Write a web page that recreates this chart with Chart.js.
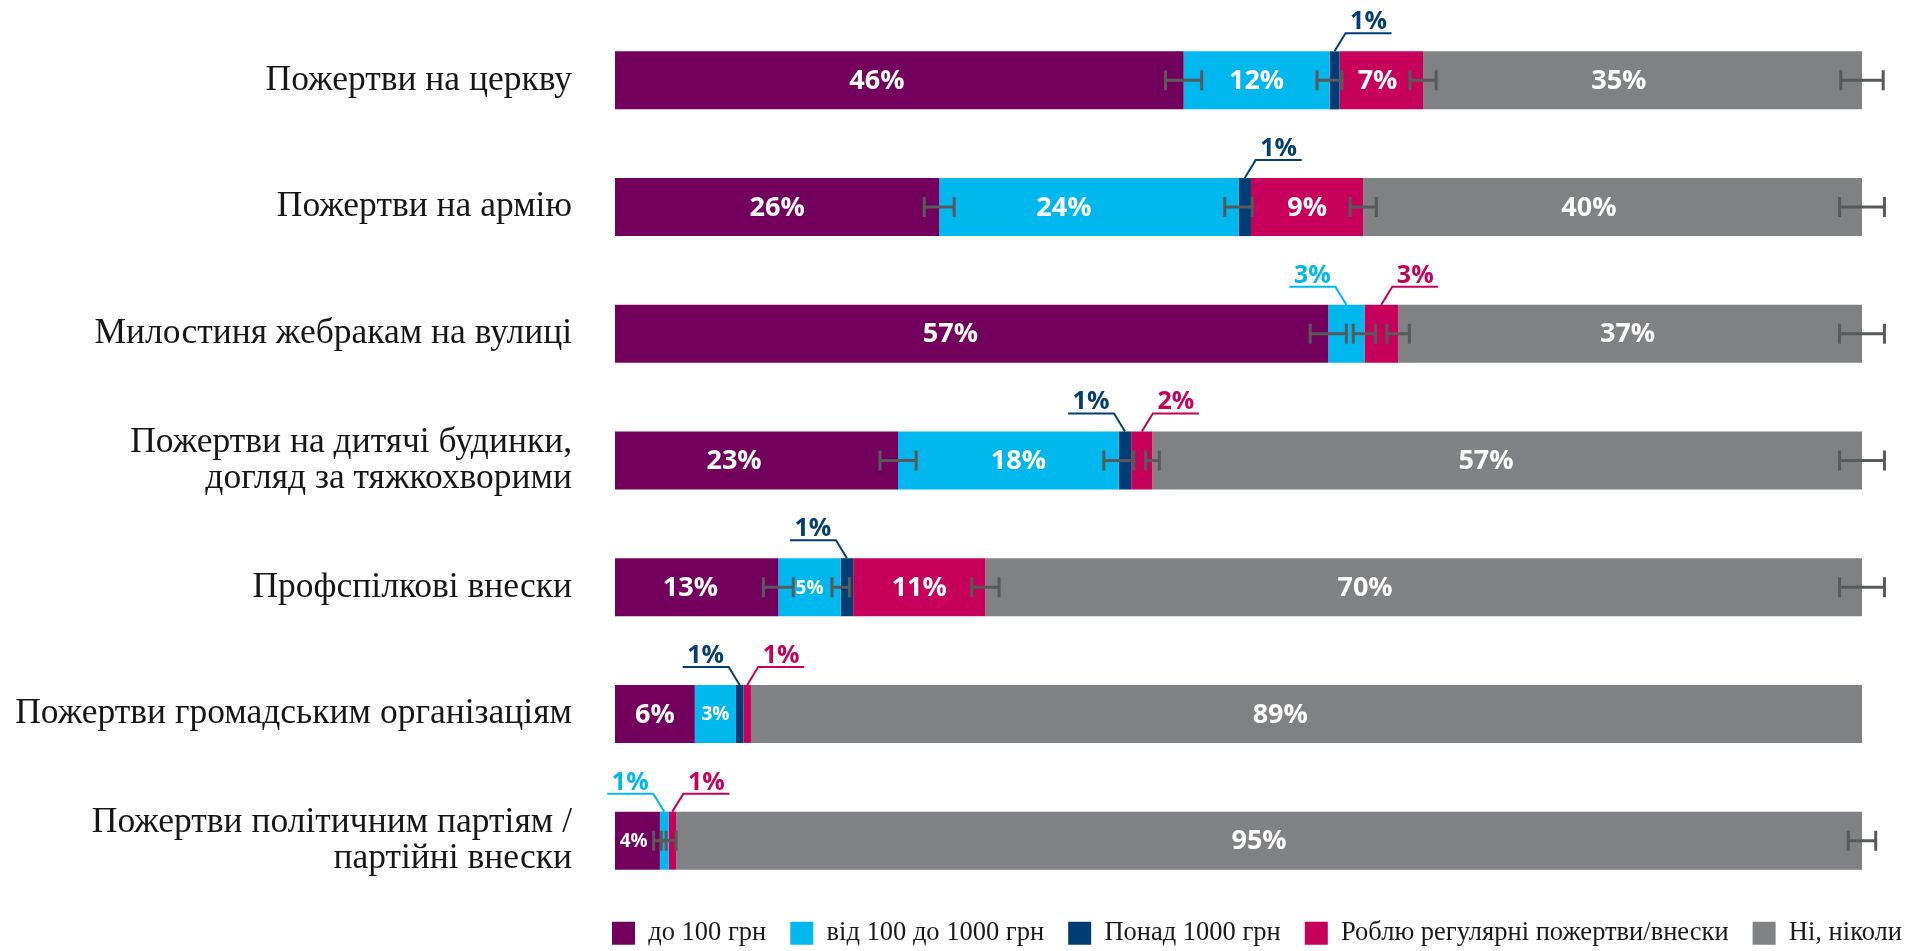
<!DOCTYPE html>
<html><head><meta charset="utf-8">
<script src="https://cdn.jsdelivr.net/npm/chart.js@4.4.1/dist/chart.umd.min.js"></script>
<style>html,body{margin:0;padding:0;background:#fff;} #wrap{width:1909px;height:951px;position:relative;overflow:hidden;}</style>
</head><body><div id="wrap"><canvas id="c"></canvas></div>
<script>
// ---- data ----
const categories = [
  'Пожертви на церкву',
  'Пожертви на армію',
  'Милостиня жебракам на вулиці',
  ['Пожертви на дитячі будинки,', 'догляд за тяжкохворими'],
  'Профспілкові внески',
  'Пожертви громадським організаціям',
  ['Пожертви політичним партіям /', 'партійні внески']
];
const seriesNames = ['до 100 грн', 'від 100 до 1000 грн', 'Понад 1000 грн', 'Роблю регулярні пожертви/внески', 'Ні, ніколи'];
const under100      = [45.6, 26, 57.2, 22.7, 13.1, 6.4, 3.6];
const from100to1000 = [11.7, 24, 2.9, 17.7, 5.0, 3.3, 0.7];
const over1000      = [0.8, 1, 0, 1.0, 1.0, 0.6, 0];
const regular       = [6.7, 9, 2.7, 1.7, 10.6, 0.6, 0.6];
const never         = [35.2, 40, 37.2, 56.9, 70.3, 89.1, 95.1];
// error margins (half-width, percentage points) drawn at each segment end
const errUnder100      = [1.45, 1.2, 1.45, 1.45, 1.2, null, 0.5];
const errFrom100to1000 = [1.0, 1.1, 0.9, 1.2, 0.7, null, 0.6];
const errOver1000      = [null, null, null, null, null, null, null];
const errRegular       = [1.05, 1.05, 0.9, 0.55, 1.1, null, null];
const errNever         = [1.7, 1.8, 1.8, 1.8, 1.8, null, 1.1];

// ---- label placement (styling, not data) ----
// segments labelled outside the bar with a callout: [row, series, direction]
const calloutSegments = [[0,2,1],[1,2,1],[2,1,-1],[2,3,1],[3,2,-1],[3,3,1],[4,2,-1],[5,2,-1],[5,3,1],[6,1,-1],[6,3,1]];
// horizontal nudge of inside labels, in axis units, per series
const labelNudge = [
  [-1.8, 0, -1.7, -1.8, -0.5, 0, -0.3],
  [0, -2.0, 0, 0.8, 0, 0, 0],
  [0, 0, 0, 0, 0, 0, 0],
  [-0.3, 0, 0, 0, 0, 0, 0],
  [-1.9, -1.9, -0.2, -1.7, -4.7, -2.1, -0.8]
];

const seriesValues = [under100, from100to1000, over1000, regular, never];
const seriesErrors = [errUnder100, errFrom100to1000, errOver1000, errRegular, errNever];
const colors = ['#73005c', '#00b7ee', '#023e73', '#c6005b', '#808184'];

const labelPlugin = {
  id: 'segLabels',
  afterDatasetsDraw(chart) {
    const ctx = chart.ctx;
    const xs = chart.scales.x;
    const isCallout = (r, s) => calloutSegments.find(c => c[0] === r && c[1] === s);
    // error bars
    ctx.save();
    ctx.strokeStyle = '#58595b';
    ctx.lineWidth = 3;
    seriesValues.forEach((vals, s) => {
      const meta = chart.getDatasetMeta(s);
      vals.forEach((v, r) => {
        const e = seriesErrors[s][r];
        if (e == null || !v) return;
        const bar = meta.data[r];
        let cum = 0; for (let k = 0; k <= s; k++) cum += seriesValues[k][r];
        const x0 = xs.getPixelForValue(cum - e), x1 = xs.getPixelForValue(cum + e);
        const y = bar.y;
        ctx.beginPath();
        ctx.moveTo(x0, y); ctx.lineTo(x1, y);
        ctx.moveTo(x0, y - 10); ctx.lineTo(x0, y + 10);
        ctx.moveTo(x1, y - 10); ctx.lineTo(x1, y + 10);
        ctx.stroke();
      });
    });
    ctx.restore();
    // labels
    ctx.save();
    seriesValues.forEach((vals, s) => {
      const meta = chart.getDatasetMeta(s);
      vals.forEach((v, r) => {
        if (!v) return;
        const bar = meta.data[r];
        const txt = Math.round(v) + '%';
        const xc = (bar.x + bar.base) / 2;
        const co = isCallout(r, s);
        if (co) {
          const dir = co[2];
          const top = bar.y - bar.height / 2;
          const x1 = xc + dir * 11, y1 = top - 18;
          const x2 = x1 + dir * 46;
          ctx.strokeStyle = colors[s];
          ctx.lineWidth = 2;
          ctx.beginPath();
          ctx.moveTo(xc, top); ctx.lineTo(x1, y1); ctx.lineTo(x2, y1);
          ctx.stroke();
          ctx.fillStyle = colors[s];
          ctx.font = 'bold 25px "Open Sans"';
          ctx.textAlign = 'center';
          ctx.textBaseline = 'alphabetic';
          ctx.fillText(txt, (x1 + x2) / 2, y1 - 4);
        } else {
          ctx.fillStyle = '#ffffff';
          const size = v < 6 ? 19 : 27;
          ctx.font = 'bold ' + size + 'px "Open Sans"';
          ctx.textAlign = 'center';
          ctx.textBaseline = 'middle';
          const dx = xs.getPixelForValue(labelNudge[s][r]) - xs.getPixelForValue(0);
          ctx.fillText(txt, xc + dx, bar.y + 1);
        }
      });
    });
    ctx.restore();
  }
};

const legendShift = {
  id: 'legendShift',
  afterLayout(chart) {
    const lg = chart.legend;
    const pad = lg.options.labels.padding;
    lg.left = chart.chartArea.left - 3 - pad;
    lg.right = chart.width + 400;
    lg.top = chart.chartArea.bottom - 8;
    lg.bottom = chart.height;
    lg.width = lg.right - lg.left;
    lg.height = lg.bottom - lg.top;
  }
};

new Chart(document.getElementById('c'), {
  type: 'bar',
  data: {
    labels: categories,
    datasets: seriesNames.map((name, s) => ({
      label: name,
      data: seriesValues[s],
      backgroundColor: colors[s],
      borderWidth: 0,
      barPercentage: 0.458,
      categoryPercentage: 1
    }))
  },
  options: {
    indexAxis: 'y',
    responsive: true,
    maintainAspectRatio: false,
    animation: false,
    events: [],
    layout: { padding: { top: 17, right: 47, bottom: 0, left: 0 } },
    scales: {
      x: { stacked: true, min: 0, max: 100, display: false },
      y: {
        stacked: true,
        grid: { display: false, drawTicks: false },
        border: { display: false },
        ticks: {
          color: '#161616',
          padding: 43,
          font: { family: '"Liberation Serif"', size: 35.5, lineHeight: 1.03 }
        },
        afterFit(scale) {
          scale.width = 615;
          scale.paddingTop = 0;
          scale.paddingBottom = 0;
        }
      }
    },
    plugins: {
      tooltip: { enabled: false },
      legend: {
        position: 'bottom',
        align: 'start',
        maxHeight: 47,
        labels: {
          boxWidth: 23,
          boxHeight: 23,
          padding: 24,
          color: '#1a1a1a',
          font: { family: '"Liberation Serif"', size: 26.5 }
        }
      }
    }
  },
  plugins: [labelPlugin, legendShift]
});
</script>
</body></html>
